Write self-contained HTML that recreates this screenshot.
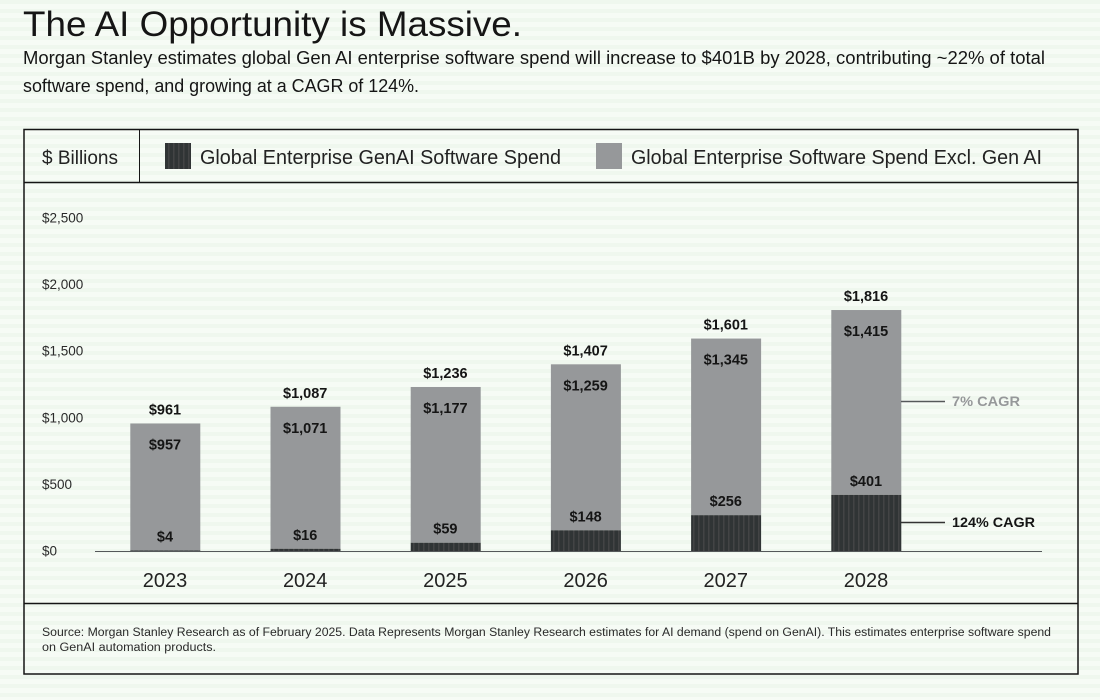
<!DOCTYPE html>
<html lang="en">
<head>
<meta charset="utf-8">
<title>The AI Opportunity is Massive.</title>
<style>
html,body{margin:0;padding:0;width:1100px;height:700px;overflow:hidden}
body{background:#f3f9f2;background-image:repeating-linear-gradient(180deg,#eff7ee 0 4px,#f6fbf5 4px 9px)}
svg{display:block;font-family:"Liberation Sans",sans-serif}
</style>
</head>
<body>
<svg id="chart" width="1100" height="700" viewBox="0 0 1100 700" xmlns="http://www.w3.org/2000/svg">
  <defs>
    <pattern id="dark-stripes" patternUnits="userSpaceOnUse" width="5" height="10">
      <rect width="5" height="10" fill="#303435"></rect>
      <rect x="3" width="1.5" height="10" fill="#434445"></rect>
    </pattern>
  </defs>
  <text x="23" y="36" font-size="35" fill="#151515" textLength="499" lengthAdjust="spacingAndGlyphs">The AI Opportunity is Massive.</text>
  <text x="23" y="64" font-size="18" fill="#151515" textLength="1022" lengthAdjust="spacingAndGlyphs">Morgan Stanley estimates global Gen AI enterprise software spend will increase to $401B by 2028, contributing ~22% of total</text>
  <text x="23" y="92" font-size="18" fill="#151515" textLength="396" lengthAdjust="spacingAndGlyphs">software spend, and growing at a CAGR of 124%.</text>

  <rect x="24" y="129.5" width="1054" height="544.5" fill="none" stroke="#151515" stroke-width="1.5"></rect>
  <line x1="24" y1="182.5" x2="1078" y2="182.5" stroke="#151515" stroke-width="1.5"></line>
  <line x1="139.5" y1="130" x2="139.5" y2="182" stroke="#151515" stroke-width="1"></line>
  <line x1="24" y1="603.5" x2="1078" y2="603.5" stroke="#151515" stroke-width="1.5"></line>

  <text x="42" y="164" font-size="19" fill="#222" textLength="76" lengthAdjust="spacingAndGlyphs">$ Billions</text>
  <rect x="165" y="143" width="26" height="26" fill="url(#dark-stripes)"></rect>
  <text x="200" y="164" font-size="20" fill="#222" textLength="361" lengthAdjust="spacingAndGlyphs">Global Enterprise GenAI Software Spend</text>
  <rect x="596" y="143" width="26" height="26" fill="#96989a"></rect>
  <text x="631" y="164" font-size="20" fill="#222" textLength="411" lengthAdjust="spacingAndGlyphs">Global Enterprise Software Spend Excl. Gen AI</text>

  <g id="y-axis"></g>
  <g id="bars"></g>
  <line x1="95" y1="551.5" x2="1042" y2="551.5" stroke="#55585a" stroke-width="1"></line>
  <g id="x-axis"></g>

  <line x1="901" y1="401.5" x2="945" y2="401.5" stroke="#55585a" stroke-width="1.5"></line>
  <text x="952" y="406" font-size="14" font-weight="bold" fill="#96989a" textLength="68" lengthAdjust="spacingAndGlyphs">7% CAGR</text>
  <line x1="901" y1="522.5" x2="945" y2="522.5" stroke="#333" stroke-width="1.5"></line>
  <text x="952" y="527" font-size="14" font-weight="bold" fill="#151515" textLength="83" lengthAdjust="spacingAndGlyphs">124% CAGR</text>

  <text x="42" y="636" font-size="11.5" fill="#2a2a2a" textLength="1009" lengthAdjust="spacingAndGlyphs">Source: Morgan Stanley Research as of February 2025. Data Represents Morgan Stanley Research estimates for AI demand (spend on GenAI). This estimates enterprise software spend</text>
  <text x="42" y="651" font-size="11.5" fill="#2a2a2a" textLength="174" lengthAdjust="spacingAndGlyphs">on GenAI automation products.</text>
</svg>
<script>
const categories = ['2023', '2024', '2025', '2026', '2027', '2028'];
const genAiSpend = [4, 16, 59, 148, 256, 401];
const otherSpend = [957, 1071, 1177, 1259, 1345, 1415];
const totalSpend = [961, 1087, 1236, 1407, 1601, 1816];
const yTicks = [0, 500, 1000, 1500, 2000, 2500];

const NS = 'http://www.w3.org/2000/svg';
const baseY = 551;
const pxPerUnit = 0.1327;
const genAiPxPerUnit = 0.14;
const firstCenter = 165.3;
const step = 140.2;
const barWidth = 70;

function yScale(v) { return baseY - v * pxPerUnit; }
function xScale(i) { return firstCenter + i * step; }
function money(v) { return '$' + v.toLocaleString('en-US'); }

function makeText(parent, x, y, str, size, weight, anchor, fill) {
  const t = document.createElementNS(NS, 'text');
  t.setAttribute('x', x);
  t.setAttribute('y', y);
  t.setAttribute('font-size', size);
  t.setAttribute('font-weight', weight);
  t.setAttribute('text-anchor', anchor);
  t.setAttribute('fill', fill);
  t.textContent = str;
  parent.appendChild(t);
  return t;
}

function makeRect(parent, x, y, w, h, fill) {
  const r = document.createElementNS(NS, 'rect');
  r.setAttribute('x', x);
  r.setAttribute('y', y);
  r.setAttribute('width', w);
  r.setAttribute('height', h);
  r.setAttribute('fill', fill);
  parent.appendChild(r);
  return r;
}

const yAxis = document.getElementById('y-axis');
yTicks.forEach(function (tick) {
  const label = makeText(yAxis, 42, baseY - tick * 0.1332 + 4.5, money(tick), 13.5, 'normal', 'start', '#2a2a2a');
  
  
});

const barsGroup = document.getElementById('bars');
const xAxis = document.getElementById('x-axis');
categories.forEach(function (cat, i) {
  const cx = xScale(i);
  const left = cx - barWidth / 2;
  const darkH = genAiSpend[i] * genAiPxPerUnit;
  const darkTop = baseY - darkH;
  const top = yScale(genAiSpend[i] + otherSpend[i]);

  const grey = makeRect(barsGroup, left, top, barWidth, darkTop - top, '#96989a');
  
  

  const dark = makeRect(barsGroup, left, darkTop, barWidth, darkH, 'url(#dark-stripes)');
  
  

  const totalLabel = makeText(barsGroup, cx - 0.3, yScale(totalSpend[i]) - 9, money(totalSpend[i]), 14.5, 'bold', 'middle', '#151515');
  
  

  const otherLabel = makeText(barsGroup, cx - 0.3, top + 26, money(otherSpend[i]), 14.5, 'bold', 'middle', '#151515');
  
  

  const genLabel = makeText(barsGroup, cx - 0.3, darkTop - 9, money(genAiSpend[i]), 14.5, 'bold', 'middle', '#151515');
  
  

  const catLabel = makeText(xAxis, cx - 0.3, 587, cat, 20, 'normal', 'middle', '#222');
  
  
});
</script>
</body>
</html>
